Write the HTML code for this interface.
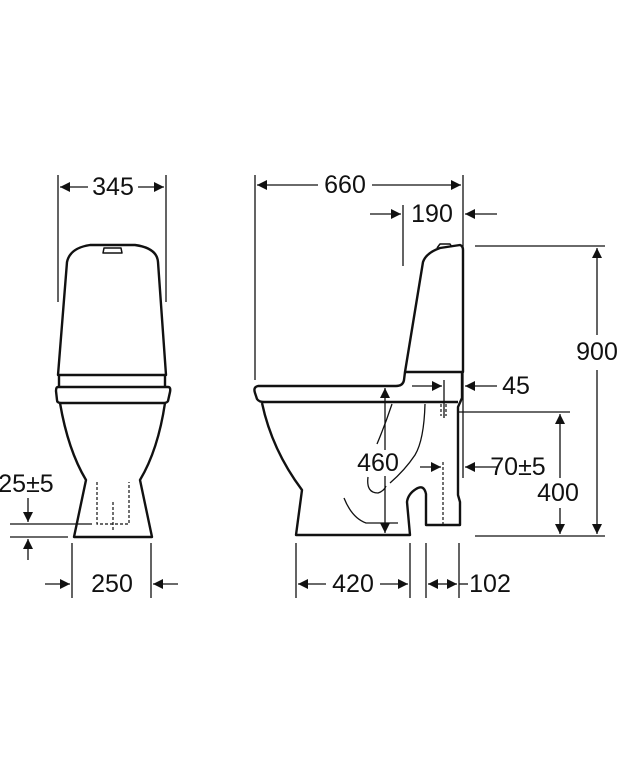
<!DOCTYPE html>
<html><head><meta charset="utf-8"><style>
html,body{margin:0;padding:0;background:#fff}
svg{display:block}
text{font-family:"Liberation Sans",Arial,sans-serif;font-size:25px;fill:#111;text-anchor:middle;dominant-baseline:central}
</style></head><body>
<svg width="618" height="770" viewBox="0 0 618 770" xmlns="http://www.w3.org/2000/svg">
<defs>
<marker id="a" viewBox="0 0 10 10" refX="10" refY="5" markerWidth="18" markerHeight="10" markerUnits="userSpaceOnUse" orient="auto"><path d="M0,0 L10,5 L0,10 Z" fill="#111"/></marker>
</defs>
<g stroke="#111" fill="none" stroke-width="1.3">
<line x1="58" y1="175" x2="58" y2="302"/>
<line x1="166" y1="175" x2="166" y2="302"/>
<line x1="88" y1="187" x2="60" y2="187" marker-end="url(#a)"/>
<line x1="138" y1="187" x2="164" y2="187" marker-end="url(#a)"/>
<line x1="10" y1="524" x2="92" y2="524"/>
<line x1="10" y1="537" x2="68" y2="537"/>
<line x1="28" y1="498" x2="28" y2="522" marker-end="url(#a)"/>
<line x1="28" y1="560" x2="28" y2="539" marker-end="url(#a)"/>
<line x1="72" y1="543" x2="72" y2="598"/>
<line x1="151" y1="543" x2="151" y2="598"/>
<line x1="45" y1="584" x2="70" y2="584" marker-end="url(#a)"/>
<line x1="178" y1="584" x2="153" y2="584" marker-end="url(#a)"/>
</g>
<g stroke="#111" fill="none" stroke-width="2.4" stroke-linejoin="round">
<path d="M58,375 L67,262 Q70,248 90,245 L135,245 Q157,248 158,262 L166,375 Z"/>
<path d="M103,253 L104,248 L121,248 L122,253 Z" stroke-width="1.5"/>
<path d="M59,375 L59,387 M165,375 L165,387"/>
<path d="M58,387 L168,387 Q171,387 170,392 L168,401 Q167,403 163,403 L61,403 Q57,403 57,400 L56,391 Q56,387 58,387 Z"/>
<path d="M60,403 Q68,450 86,480 L74,537 L152,537 L140,480 Q158,450 165,403"/>
</g>
<g stroke="#111" fill="none" stroke-width="1.2" stroke-dasharray="3,2">
<path d="M97,482 L97,524 L129,524 L129,482"/>
<path d="M113,502 L113,532"/>
</g>
<g stroke="#111" fill="none" stroke-width="2.4" stroke-linejoin="round">
<path d="M405,372 L423,262 Q426,253 440,248 L460,245 Q463,246 463,250 L463,372 Z"/>
<path d="M437,248 L440,244 L450,244 L452,247" stroke-width="1.5"/>
<path d="M405,372 L404,380 Q403,386 396,386 L258,386 Q253,387 255,393 L257,399 Q259,402 264,402 L458,402"/>
<path d="M462,372 L462,398 L458,407 L458,495 L460,502 L460,525 L426,525 L426,494 Q424,484 416,489 Q408,494 407,502 L410,535 L296,535 L302,490 Q272,450 262,403"/>
</g>
<g stroke="#111" fill="none" stroke-width="1.3">
<path d="M425,404 Q424,440 415,455 Q405,470 390,483"/>
<path d="M392,404 Q385,425 377,444"/>
<path d="M368,477 Q366,493 378,493 Q384,491 386,486"/>
<path d="M344,498 Q352,518 366,523 L398,523"/>
<line x1="255" y1="175" x2="255" y2="380"/>
<line x1="463" y1="175" x2="463" y2="478"/>
<line x1="318" y1="185" x2="257" y2="185" marker-end="url(#a)"/>
<line x1="372" y1="185" x2="461" y2="185" marker-end="url(#a)"/>
<line x1="403" y1="205" x2="403" y2="266"/>
<line x1="370" y1="214" x2="401" y2="214" marker-end="url(#a)"/>
<line x1="497" y1="214" x2="465" y2="214" marker-end="url(#a)"/>
<line x1="475" y1="246" x2="605" y2="246"/>
<line x1="475" y1="536" x2="605" y2="536"/>
<line x1="597" y1="335" x2="597" y2="248" marker-end="url(#a)"/>
<line x1="597" y1="370" x2="597" y2="534" marker-end="url(#a)"/>
<line x1="412" y1="386" x2="442" y2="386" marker-end="url(#a)"/>
<line x1="444" y1="380" x2="444" y2="418"/>
<line x1="497" y1="386" x2="465" y2="386" marker-end="url(#a)"/>
<line x1="458" y1="412" x2="570" y2="412"/>
<line x1="560" y1="478" x2="560" y2="414" marker-end="url(#a)"/>
<line x1="560" y1="508" x2="560" y2="534" marker-end="url(#a)"/>
<line x1="385" y1="450" x2="385" y2="388" marker-end="url(#a)"/>
<line x1="385" y1="476" x2="385" y2="533" marker-end="url(#a)"/>
<line x1="420" y1="467" x2="441" y2="467" marker-end="url(#a)"/>
<line x1="497" y1="467" x2="465" y2="467" marker-end="url(#a)"/>
<line x1="296" y1="543" x2="296" y2="598"/>
<line x1="410" y1="543" x2="410" y2="598"/>
<line x1="326" y1="584" x2="298" y2="584" marker-end="url(#a)"/>
<line x1="380" y1="584" x2="408" y2="584" marker-end="url(#a)"/>
<line x1="426" y1="543" x2="426" y2="598"/>
<line x1="459" y1="543" x2="459" y2="598"/>
<line x1="442" y1="584" x2="428" y2="584" marker-end="url(#a)"/>
<line x1="442" y1="584" x2="457" y2="584" marker-end="url(#a)"/>
<line x1="459" y1="584" x2="468" y2="584"/>
</g>
<g stroke="#111" fill="none" stroke-width="1.2" stroke-dasharray="3,2">
<path d="M441,404 L441,416 M446,404 L446,416"/>
<path d="M443,462 L443,525"/>
</g>
<g>
<text x="113" y="187">345</text>
<text x="26" y="484">25±5</text>
<text x="112" y="584">250</text>
<text x="345" y="185">660</text>
<text x="432" y="214">190</text>
<text x="597" y="352">900</text>
<text x="516" y="386">45</text>
<text x="378" y="463">460</text>
<text x="518" y="467">70±5</text>
<text x="558" y="493">400</text>
<text x="353" y="584">420</text>
<text x="490" y="584">102</text>
</g>
</svg>
</body></html>
